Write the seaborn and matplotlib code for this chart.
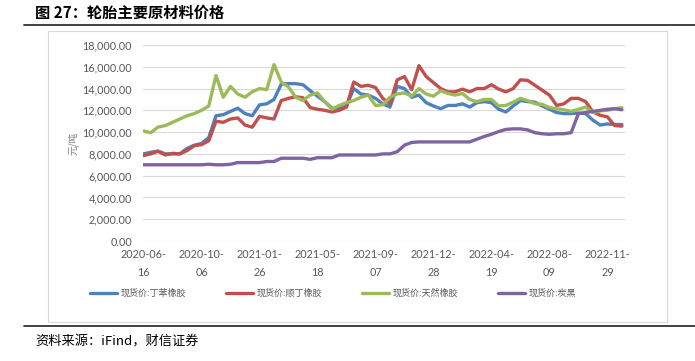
import matplotlib
matplotlib.use("Agg")
import matplotlib.pyplot as plt
from matplotlib.lines import Line2D
from matplotlib.patches import Rectangle
import seaborn as sns
import pandas as pd

# ---------------- data ----------------
start_date = "2020-06-16"
n_points = 67  # one reading every 14 days

sbr = [8000, 8150, 8250, 8000, 8000, 8000, 8500, 8800, 8950, 9500,
       11500, 11600, 11900, 12200, 11700, 11500, 12500, 12600, 13000, 14400,
       14450, 14450, 14350, 13800, 13300, 12800, 12200, 12150, 12400, 14000,
       13500, 13400, 13100, 12600, 12300, 14200, 14000, 13200, 13400, 12700,
       12400, 12150, 12450, 12450, 12600, 12300, 12700, 12800, 12700, 12100,
       11850, 12400, 12900, 12800, 12750, 12400, 12100, 11800, 11700, 11700,
       11750, 11700, 11100, 10650, 10750, 10700, 10700]

br = [7850, 8000, 8250, 7900, 8050, 8000, 8300, 8750, 8850, 9200,
      11000, 10900, 11200, 11300, 10650, 10450, 11450, 11300, 11200, 12900,
      13100, 13250, 13150, 12250, 12100, 12000, 11850, 12000, 12300, 14600,
      14200, 14300, 14100, 13100, 12600, 14800, 15100, 13900, 16100, 15100,
      14550, 14000, 13700, 13700, 13950, 13700, 14000, 14000, 14350, 13950,
      13700, 14000, 14800, 14750, 14300, 13850, 13400, 12450, 12600, 13100,
      13100, 12800, 11850, 11550, 11400, 10600, 10550]

nr = [10100, 9950, 10460, 10600, 10900, 11200, 11500, 11700, 12000, 12400,
      15200, 13200, 14200, 13500, 13200, 13700, 14000, 13900, 16200, 14600,
      14150, 13200, 12900, 13400, 13600, 12800, 12100, 12450, 12700, 12900,
      13200, 13400, 12450, 12500, 13200, 13500, 13600, 13300, 14000, 13500,
      13300, 13800, 13550, 13400, 13550, 13000, 12800, 13000, 13000, 12400,
      12450, 12750, 13100, 12900, 12600, 12550, 12250, 12150, 12050, 11900,
      12100, 12300, 11800, 11950, 12000, 12150, 12250]

cb = [7000, 7000, 7000, 7000, 7000, 7000, 7000, 7000, 7000, 7050,
      7000, 7000, 7050, 7200, 7200, 7200, 7200, 7300, 7300, 7600,
      7600, 7600, 7600, 7500, 7650, 7650, 7650, 7900, 7900, 7900,
      7900, 7900, 7900, 8000, 8000, 8200, 8800, 9050, 9100, 9100,
      9100, 9100, 9100, 9100, 9100, 9100, 9350, 9600, 9800, 10050,
      10250, 10300, 10300, 10200, 9950, 9850, 9800, 9850, 9850, 9950,
      11700, 11800, 11900, 12000, 12100, 12150, 12050]

series_names = ["现货价:丁苯橡胶", "现货价:顺丁橡胶", "现货价:天然橡胶", "现货价:炭黑"]
series_colors = ["#4F81BD", "#C0504D", "#9BBB59", "#8064A2"]

tick_dates = ["2020-06-16", "2020-10-06", "2021-01-26", "2021-05-18", "2021-09-07",
              "2021-12-28", "2022-04-19", "2022-08-09", "2022-11-29"]
tick_labels = ["2020-06-\n16", "2020-10-\n06", "2021-01-\n26", "2021-05-\n18", "2021-09-\n07",
               "2021-12-\n28", "2022-04-\n19", "2022-08-\n09", "2022-11-\n29"]
y_ticks = [0, 2000, 4000, 6000, 8000, 10000, 12000, 14000, 16000, 18000]

title_text = "图 27：轮胎主要原材料价格"
source_text = "资料来源：iFind，财信证券"
y_label = "元/吨"

# ---------------- build table ----------------
dates = pd.date_range(start_date, periods=n_points, freq="14D")
frames = []
for name, vals in zip(series_names, [sbr, br, nr, cb]):
    frames.append(pd.DataFrame({"date": dates, "value": vals, "series": name}))
df = pd.concat(frames, ignore_index=True)

# ---------------- plot ----------------
sns.set_theme(style="white")
plt.rcParams["font.family"] = ["Lato", "Noto Sans CJK SC", "DejaVu Sans"]
plt.rcParams["axes.unicode_minus"] = False

W, H = 695, 361
fig = plt.figure(figsize=(W / 100, H / 100), dpi=100)
ax = fig.add_axes([143 / W, 1 - 241 / H, (625 - 143) / W, (241 - 45) / H])

sns.lineplot(data=df, x="date", y="value", hue="series", hue_order=series_names,
             palette=series_colors, linewidth=2.4, ax=ax, legend=False)

ax.set_ylim(0, 18000)
ax.set_xlim(pd.Timestamp("2020-06-15"), pd.Timestamp("2023-01-02"))
ax.set_yticks(y_ticks)
ax.set_yticklabels([f"{v:,.2f}" for v in y_ticks])
ax.set_xticks([pd.Timestamp(d) for d in tick_dates])
ax.set_xticklabels(tick_labels, linespacing=1.75)
ax.tick_params(axis="both", length=0, labelsize=7.8, labelcolor="#595959")
ax.tick_params(axis="y", pad=8)
ax.tick_params(axis="x", pad=6)
ax.grid(axis="y", color="#D9D9D9", linewidth=0.8)
ax.grid(axis="x", visible=False)
for s in ax.spines.values():
    s.set_visible(False)
ax.set_xlabel("")
ax.set_ylabel(y_label, fontsize=7, color="#7F7F7F", family=["Noto Sans CJK SC"], labelpad=3)

# legend
handles = [Line2D([0], [0], color=c, linewidth=2.4) for c in series_colors]
leg = fig.legend(handles, series_names, loc="center", bbox_to_anchor=(333 / W, 1 - 293 / H),
                 ncol=4, frameon=False, handlelength=3.0, handletextpad=0.4,
                 columnspacing=4.4, prop={"family": ["Noto Sans CJK SC"], "size": 6.5})
for t in leg.get_texts():
    t.set_color("#595959")

# chart frame
fig.patches.append(Rectangle((48 / W, 1 - 322 / H), (667 - 48) / W, (322 - 31) / H,
                             transform=fig.transFigure, fill=False, edgecolor="#D9D9D9",
                             linewidth=0.8))
# title and rules
fig.text(35 / W, 1 - 13 / H, title_text, fontsize=11, fontweight="bold", va="center",
         ha="left", family=["Noto Sans CJK SC", "DejaVu Sans"], color="black")
fig.add_artist(Line2D([24 / W, 1.0], [1 - 25 / H, 1 - 25 / H], color="#333333", linewidth=1.3,
                      transform=fig.transFigure))
fig.add_artist(Line2D([24 / W, 1.0], [1 - 326 / H, 1 - 326 / H], color="#333333", linewidth=1.3,
                      transform=fig.transFigure))
fig.text(35 / W, 1 - 342 / H, source_text, fontsize=9.5, va="center", ha="left",
         family=["Noto Sans CJK SC", "DejaVu Sans"], color="black")

fig.savefig("out.png", dpi=100)
